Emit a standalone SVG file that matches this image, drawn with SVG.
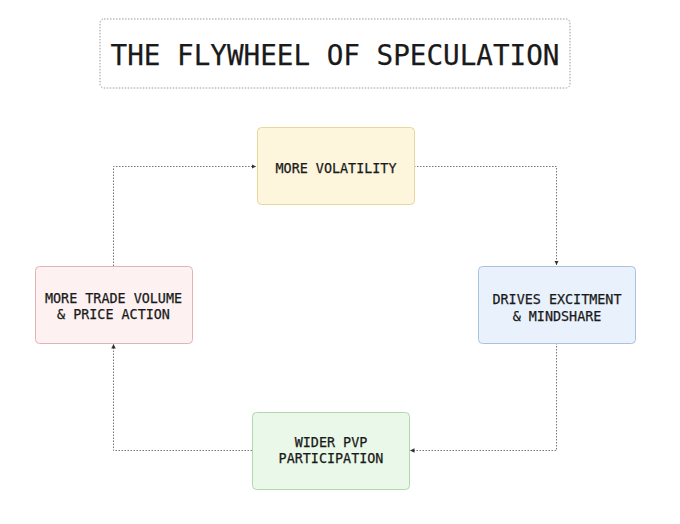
<svg xmlns="http://www.w3.org/2000/svg" width="680" height="524" viewBox="0 0 680 524">
<defs>
<style>
.t{font-family:"DejaVu Sans Mono","Liberation Mono",monospace;fill:#1a1a1a;text-anchor:middle;stroke:#1a1a1a;stroke-width:0.25}
.n{font-size:13.4px}
.c{fill:none;stroke:#777;stroke-width:1;stroke-dasharray:1.5 1.5}
</style>
<marker id="ah" viewBox="0 0 6 6" refX="6" refY="3" markerWidth="4.5" markerHeight="4.5" orient="auto" markerUnits="userSpaceOnUse">
<path d="M0,0 L6,3 L0,6 z" fill="#333"/>
</marker>
</defs>
<rect width="680" height="524" fill="#fff"/>
<g id="title">
<rect x="100" y="19" width="470" height="69" rx="4" fill="#fff" stroke="#999" stroke-width="1" stroke-dasharray="1.5 1.5"/>
<text class="t" x="335" y="65" font-size="28" stroke-width="0.5" textLength="449" lengthAdjust="spacingAndGlyphs">THE FLYWHEEL OF SPECULATION</text>
</g>
<g id="connectors">
<path class="c" d="M414,166.5 H556.5 V265" marker-end="url(#ah)"/>
<path class="c" d="M556.5,343 V450.5 H410" marker-end="url(#ah)"/>
<path class="c" d="M252,450.5 H113.5 V344" marker-end="url(#ah)"/>
<path class="c" d="M113.5,266 V166.5 H256" marker-end="url(#ah)"/>
</g>
<g id="volatility">
<rect x="257.5" y="127.5" width="157" height="77" rx="4" fill="#fdf5dc" stroke="#ebd49a"/>
<text class="t n" x="336" y="172.5">MORE VOLATILITY</text>
</g>
<g id="excitement">
<rect x="478.5" y="266.5" width="157" height="77" rx="4" fill="#e9f2fc" stroke="#a9c3df"/>
<text class="t n" x="557" y="304">DRIVES EXCITMENT</text>
<text class="t n" x="557" y="320.5">&amp; MINDSHARE</text>
</g>
<g id="participation">
<rect x="252.5" y="412.5" width="157" height="77" rx="4" fill="#eaf8e9" stroke="#b3d8ad"/>
<text class="t n" x="331" y="446.5">WIDER PVP</text>
<text class="t n" x="331" y="463">PARTICIPATION</text>
</g>
<g id="volume">
<rect x="35.5" y="266.5" width="157" height="77" rx="4" fill="#fdf1f1" stroke="#e1b3b5"/>
<text class="t n" x="113.5" y="302.5">MORE TRADE VOLUME</text>
<text class="t n" x="113.5" y="319">&amp; PRICE ACTION</text>
</g>
</svg>
